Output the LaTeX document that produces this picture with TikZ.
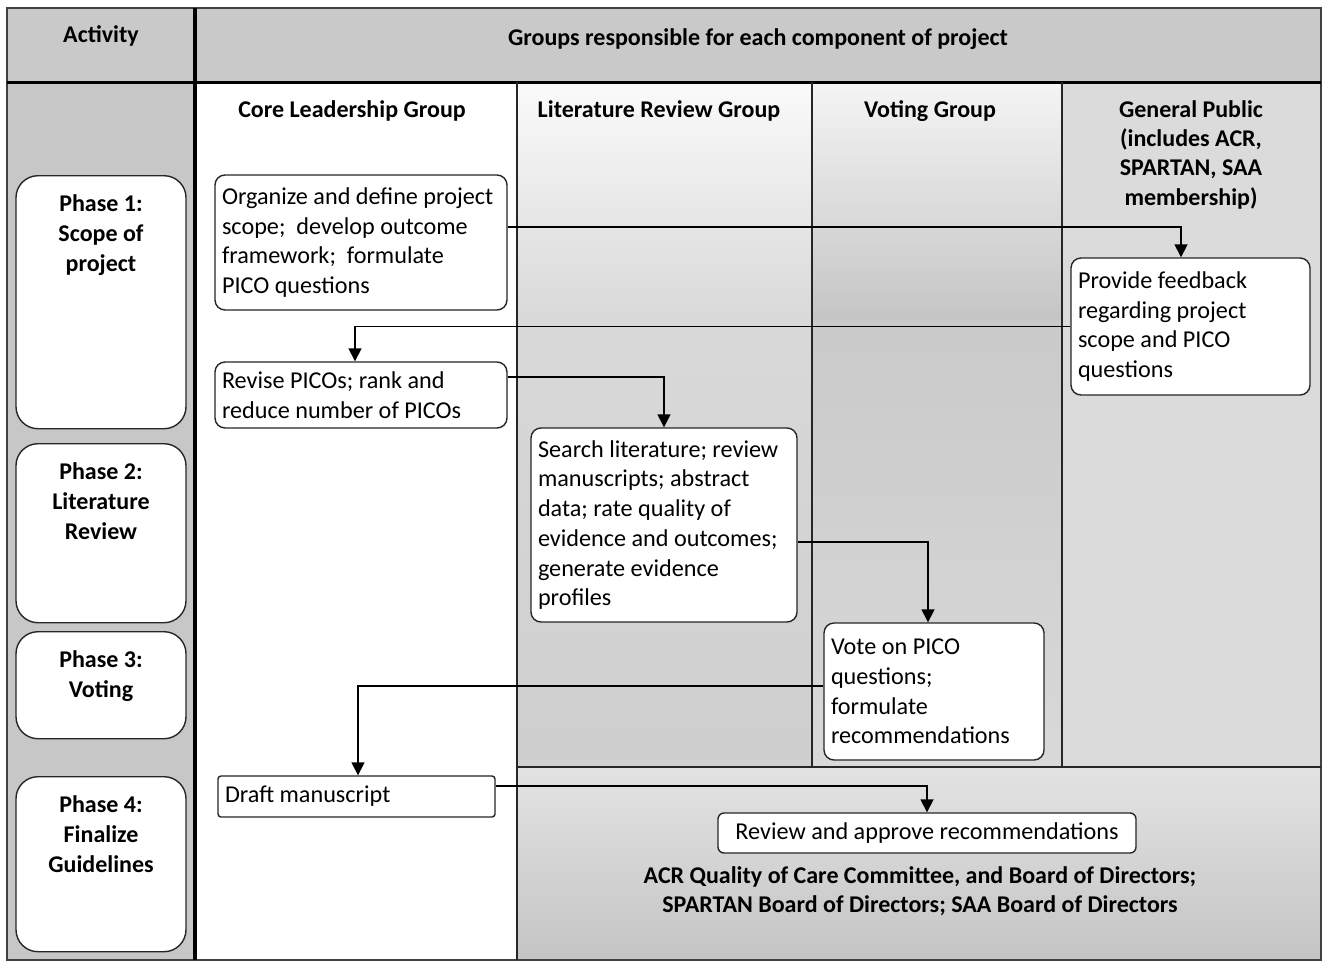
\documentclass[tikz,border=0pt]{standalone}
\usepackage{fontspec}
\setmainfont{Carlito}
\usetikzlibrary{arrows.meta,calc}
\begin{document}
\begin{tikzpicture}[x=1pt,y=-1pt,
  box/.style={draw=black!85, line width=1.4pt, fill=white, rounded corners=10pt, align=flush left,
    inner xsep=7pt, inner ysep=0pt, font=\fontsize{24.2}{29.7}\selectfont},
  phase/.style={draw=black!85, line width=1.4pt, fill=white, rounded corners=22pt, inner xsep=5pt,
    inner ysep=19pt, anchor=north, font=\bfseries\fontsize{24}{30}\selectfont},
  hdr/.style={font=\bfseries\fontsize{24}{29.4}\selectfont, inner sep=0pt, anchor=base},
  arr/.style={line width=1.6pt, -{Triangle[length=13pt,width=13pt]}},
  grid/.style={line width=1.4pt, draw=black!85}
]
\useasboundingbox (0,0) rectangle (1329,961);
\fill[white] (0,0) rectangle (1329,961);
% backgrounds
\fill[black!21] (7,8) rectangle (1321,82);
\fill[black!22] (7,82) rectangle (195,960);
\shade[top color=black!2, bottom color=black!15] (517,82) rectangle (812,320);
\shade[top color=black!15, bottom color=black!19] (517,320) rectangle (812,767);
\shade[top color=black!4, bottom color=black!23] (812,82) rectangle (1062,320);
\shade[top color=black!21, bottom color=black!15] (812,320) rectangle (1062,767);
\fill[black!14] (1062,82) rectangle (1321,767);
\shade[top color=black!11, bottom color=black!23] (517,767) rectangle (1321,960);
% grid lines
\draw[line width=1.2pt, draw=black!75] (7,8) rectangle (1321,960);
\draw[line width=3pt] (7,82) -- (1321,82);
\draw[line width=4pt] (195,8) -- (195,960);
\draw[grid] (517,82) -- (517,960);
\draw[grid] (812,82) -- (812,767);
\draw[grid] (1062,82) -- (1062,767);
\draw[grid] (517,767) -- (1321,767);
% headers
\node[hdr] (hA) at (101,42) {Activity};
\node[hdr] (hG) at (758,45) {Groups responsible for each component of project};
\node[hdr] (hC) at (352,117) {Core Leadership Group};
\node[hdr] (hL) at (659,117) {Literature Review Group};
\node[hdr] (hV) at (930,117) {Voting Group};
\node[hdr] (hP) at (1191,117) {\parbox[t]{240pt}{\centering General Public\\(includes ACR,\\SPARTAN, SAA\\membership)}};
% phases
\node[phase] (P1) at (101,175) {\parbox[t][215pt][t]{160pt}{\centering Phase 1:\\Scope of\\project}};
\node[phase] (P2) at (101,443) {\parbox[t][141pt][t]{160pt}{\centering Phase 2:\\Literature\\Review}};
\node[phase] (P3) at (101,631) {\parbox[t][69pt][t]{160pt}{\centering Phase 3:\\Voting}};
\node[phase] (P4) at (101,776) {\parbox[t][137pt][t]{160pt}{\centering Phase 4:\\Finalize\\Guidelines}};
% boxes
\node[box, minimum width=292pt, minimum height=135pt, text width=278pt] (B1) at (361,242.5)
  {Organize and define project\\scope;~ develop outcome\\framework;~ formulate\\PICO questions};
\node[box, minimum width=239pt, minimum height=137pt, text width=225pt] (B2) at (1190.5,326.5)
  {Provide feedback\\regarding project\\scope and PICO\\questions};
\node[box, minimum width=292pt, minimum height=66pt, text width=278pt] (B3) at (361,395)
  {Revise PICOs; rank and\\reduce number of PICOs};
\node[box, minimum width=266pt, minimum height=194pt, text width=252pt] (B4) at (664,525)
  {Search literature; review\\manuscripts; abstract\\data; rate quality of\\evidence and outcomes;\\generate evidence\\profiles};
\node[box, minimum width=220pt, minimum height=137pt, text width=206pt] (B5) at (934,691.5)
  {Vote on PICO\\questions;\\formulate\\recommendations};
\node[box, rounded corners=3pt, minimum width=277pt, minimum height=41pt, text width=263pt] (B6) at (356.5,796.5)
  {Draft manuscript};
\node[box, rounded corners=6pt, align=center, minimum width=418pt, minimum height=40pt] (B7) at (927,833)
  {Review and approve recommendations};
\node[hdr] (Bd) at (920,883) {\parbox[t]{700pt}{\centering ACR Quality of Care Committee, and Board of Directors;\\SPARTAN Board of Directors; SAA Board of Directors}};
% arrows
\draw[arr] ([yshift=15.5pt]B1.east) -| ([xshift=-9.5pt]B2.north);
\draw[arr] (B2.west) -| ([xshift=-6pt]B3.north);
\draw[arr] ([yshift=18pt]B3.east) -| (B4.north);
\draw[arr] ([yshift=-17pt]B4.east) -| ([xshift=-6pt]B5.north);
\draw[arr] ([yshift=5.5pt]B5.west) -| ([xshift=1.5pt]B6.north);
\draw[arr] ([yshift=10.5pt]B6.east) -| (B7.north);
\end{tikzpicture}
\end{document}
